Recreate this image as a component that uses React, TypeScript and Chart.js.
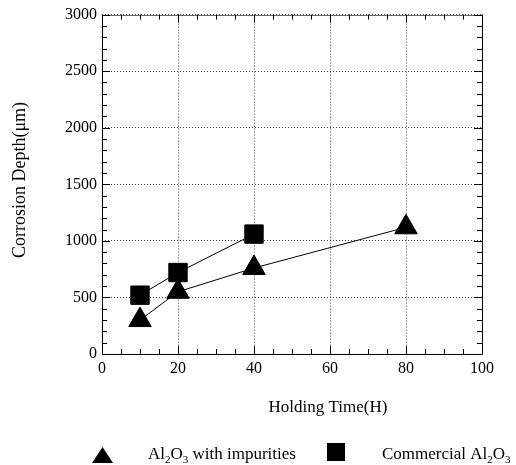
import React, { useEffect, useRef } from "react";
import { Chart, registerables } from "chart.js";

Chart.register(...registerables);

// ---- data ----
const timeImpure = [10, 20, 40, 80];
const depthImpure = [300, 550, 760, 1120];
const timeCommercial = [10, 20, 40];
const depthCommercial = [520, 720, 1060];

const xTicks = [0, 20, 40, 60, 80, 100];
const yTicks = [0, 500, 1000, 1500, 2000, 2500, 3000];
const xMinorStep = 5;
const yMinorStep = 100;

const xTitle = "Holding Time(H)";
const yTitle = "Corrosion Depth(\u03bcm)";
const legendImpure = ["Al", "2", "O", "3", " with impurities"];
const legendCommercial = ["Commercial Al", "2", "O", "3"];

const FONT = "Liberation Serif";

function drawSubText(ctx: CanvasRenderingContext2D, parts: string[], x: number, y: number, size: number) {
  let cx = x;
  parts.forEach((p, i) => {
    const sub = i % 2 === 1;
    ctx.font = `${sub ? Math.round(size * 0.65) : size}px ${FONT}`;
    ctx.fillText(p, cx, sub ? y + 4 : y);
    cx += ctx.measureText(p).width;
  });
}

const framePlugin = {
  id: "frameTicks",
  afterDraw(chart: any) {
    const { ctx, chartArea } = chart;
    const { left, right, top, bottom } = chartArea;
    const xs = chart.scales.x;
    const ys = chart.scales.y;
    ctx.save();
    ctx.lineWidth = 1;
    ctx.setLineDash([]);
    ctx.strokeStyle = "#000";
    const L = Math.round(left) + 0.5, R = Math.round(right) + 0.5;
    const T = Math.round(top) + 0.5, B = Math.round(bottom) + 0.5;
    ctx.beginPath();
    ctx.moveTo(L, T);
    ctx.lineTo(L, B);
    ctx.lineTo(R, B);
    ctx.lineTo(R, T);
    ctx.stroke();
    ctx.strokeStyle = "#666";
    ctx.beginPath();
    ctx.moveTo(L, T);
    ctx.lineTo(R, T);
    ctx.stroke();

    ctx.strokeStyle = "#000";
    ctx.beginPath();
    for (let v = xs.min; v <= xs.max + 1e-9; v += xMinorStep) {
      const px = Math.round(xs.getPixelForValue(v)) + 0.5;
      const len = xTicks.includes(v) ? 8 : 5;
      ctx.moveTo(px, bottom);
      ctx.lineTo(px, bottom - len);
      ctx.moveTo(px, top);
      ctx.lineTo(px, top + len);
    }
    for (let v = ys.min; v <= ys.max + 1e-9; v += yMinorStep) {
      const py = Math.round(ys.getPixelForValue(v)) + 0.5;
      const len = yTicks.includes(v) ? 8 : 5;
      ctx.moveTo(left, py);
      ctx.lineTo(left + len, py);
      ctx.moveTo(right, py);
      ctx.lineTo(right - len, py);
    }
    ctx.stroke();

    // axis titles
    ctx.fillStyle = "#000";
    ctx.font = `17px ${FONT}`;
    ctx.textAlign = "center";
    ctx.textBaseline = "middle";
    ctx.fillText(xTitle, 328, 408);
    ctx.save();
    ctx.translate(20, 180);
    ctx.rotate(-Math.PI / 2);
    ctx.font = `18px ${FONT}`;
    ctx.fillText(yTitle, 0, 0);
    ctx.restore();

    // legend
    ctx.textAlign = "left";
    ctx.textBaseline = "alphabetic";
    ctx.beginPath();
    ctx.moveTo(92, 463);
    ctx.lineTo(113, 463);
    ctx.lineTo(102.5, 447);
    ctx.closePath();
    ctx.fill();
    drawSubText(ctx, legendImpure, 148, 459, 17);
    ctx.fillRect(327, 443, 18, 18);
    drawSubText(ctx, legendCommercial, 382, 459, 17);
    ctx.restore();
  },
};

export default function App() {
  const ref = useRef<HTMLCanvasElement>(null);
  useEffect(() => {
    document.body.style.margin = "0";
    Chart.defaults.font.family = FONT;
    const tickFont = { size: 16, family: FONT };
    const chart = new Chart(ref.current!, {
      type: "scatter",
      data: {
        datasets: [
          {
            label: "Al2O3 with impurities",
            data: timeImpure.map((t, i) => ({ x: t, y: depthImpure[i] })),
            showLine: true,
            borderColor: "#000",
            borderWidth: 1,
            backgroundColor: "#000",
            pointBackgroundColor: "#000",
            pointBorderColor: "#000",
            pointStyle: "triangle",
            pointRadius: 13,
          },
          {
            label: "Commercial Al2O3",
            data: timeCommercial.map((t, i) => ({ x: t, y: depthCommercial[i] })),
            showLine: true,
            borderColor: "#000",
            borderWidth: 1,
            backgroundColor: "#000",
            pointBackgroundColor: "#000",
            pointBorderColor: "#000",
            pointStyle: "rect",
            pointRadius: 13,
          },
        ],
      },
      options: {
        animation: false,
        responsive: false,
        maintainAspectRatio: false,
        layout: { padding: { left: 0, top: 14, right: 34, bottom: 0 } },
        plugins: { legend: { display: false }, tooltip: { enabled: false } },
        scales: {
          x: {
            type: "linear",
            min: 0,
            max: 100,
            afterFit: (s: any) => {
              s.height = 111;
            },
            afterBuildTicks: (s: any) => {
              s.ticks = xTicks.map((v) => ({ value: v }));
            },
            ticks: {
              color: "#000",
              font: tickFont,
              padding: 5,
              maxRotation: 0,
              callback: (v: any) => String(v),
            },
            grid: { color: "#444", lineWidth: 1, drawTicks: false },
            border: { display: false, dash: [1, 2] },
          },
          y: {
            type: "linear",
            min: 0,
            max: 3000,
            afterFit: (s: any) => {
              s.width = 102;
            },
            afterBuildTicks: (s: any) => {
              s.ticks = yTicks.map((v) => ({ value: v }));
            },
            ticks: {
              color: "#000",
              font: tickFont,
              padding: 5,
              callback: (v: any) => String(v),
            },
            grid: { color: "#444", lineWidth: 1, drawTicks: false },
            border: { display: false, dash: [1, 2] },
          },
        },
      },
      plugins: [framePlugin],
    });
    return () => chart.destroy();
  }, []);
  return (
    <div style={{ width: 516, height: 465, background: "#fff" }}>
      <canvas ref={ref} width={516} height={465} />
    </div>
  );
}
